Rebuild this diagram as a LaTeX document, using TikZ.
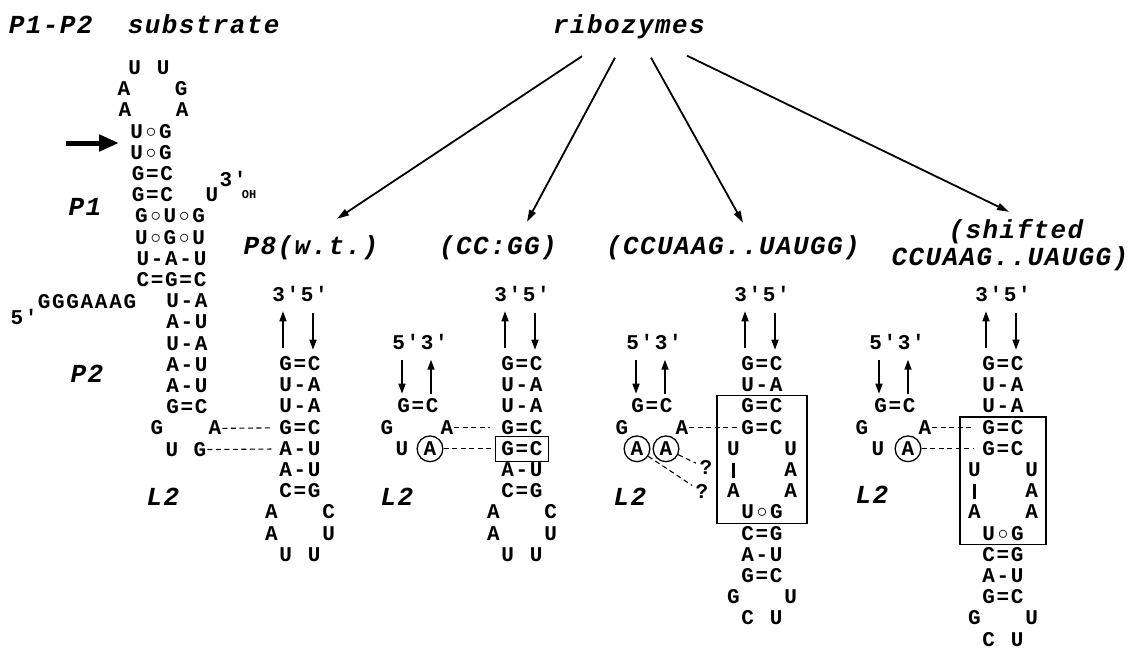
\documentclass[tikz,border=0pt]{standalone}
\usepackage{fontspec}
\usepackage{tikz}
\usetikzlibrary{arrows.meta,calc,fit}

\newfontfamily\seqfont{Liberation Mono}
\newlength\pitch
\setlength\pitch{14.3pt}
% one fixed box per letter, _ leaves an empty box
\newcommand\sq[1]{\expandafter\sqi#1\relax}
\def\sqi#1{\ifx#1\relax\else\ifx#1_\makebox[\pitch]{}\else\makebox[\pitch]{#1}\fi\expandafter\sqi\fi}
\newcommand\wob{\raisebox{1pt}[0pt][0pt]{$\circ$}}
\newcommand\stick{\rule[-1pt]{2.4pt}{15pt}}

\tikzset{
  nt/.style={inner sep=0pt, text height=13pt, text depth=0pt,
    font=\seqfont\bfseries\fontsize{21}{21}\selectfont\setlength\pitch{14.3pt}},
  lab/.style={inner sep=0pt, text height=15pt, text depth=0pt,
    font=\seqfont\bfseries\itshape\fontsize{26}{26}\selectfont\setlength\pitch{17pt}},
  small/.style={inner sep=0pt, font=\seqfont\bfseries\fontsize{12}{12}\selectfont},
  ringed/.style={nt, circle, draw, inner sep=2.3pt, line width=1.3pt},
  boxed/.style={nt, draw, inner xsep=5pt, inner ysep=6pt, line width=1.2pt},
  frame/.style={draw, line width=1.2pt},
  hbond/.style={dash pattern=on 5pt off 3.5pt, line width=1.1pt},
  strand/.style={line width=1.6pt, -{Triangle[length=10pt,width=7pt]}},
  pick/.style={line width=1.8pt, -{Triangle[length=12pt,width=7pt]}},
  cutarrow/.style={line width=5pt, -{Triangle[length=20pt,width=16pt]}},
}

\begin{document}
\begin{tikzpicture}[x=1pt,y=-1pt]
\useasboundingbox (0,0) rectangle (1137,650);

% titles
\node[lab, anchor=west] (subst) at (8,26) {\sq{P1-P2__substrate}};
\node[lab] (ribo) at (629,26) {\sq{ribozymes}};
\node[lab] (aname) at (311,247) {\sq{P8(w.t.)}};
\node[lab] (bname) at (498,247) {\sq{(CC:GG)}};
\node[lab] (cname) at (733,247) {\sq{(CCUAAG..UAUGG)}};
\node[lab] (dname) at (1016,231) {\sq{(shifted}};
\node[lab] (dname2) at (1010,258) {\sq{CCUAAG..UAUGG)}};

\draw[pick] ($(ribo.south)+(-47,22.5)$) -- ($(aname.north)+(26,-20.5)$);
\draw[pick] ($(ribo.south)+(-14,24)$) -- ($(bname.north)+(29,-17.5)$);
\draw[pick] ($(ribo.south)+(22,24)$) -- ($(cname.north)+(10,-16.5)$);
\draw[pick] ($(ribo.south)+(58,22)$) -- ($(dname.north)+(-7,-11.5)$);

% substrate P1-P2
\foreach \k/\x/\t in {0/149/U_U, 1/152.5/A___G, 2/153.5/A___A, 3/151/U\wob G,
    4/151/U\wob G, 5/152.5/G=C, 6/152.5/G=C, 7/170/G\wob U\wob G,
    8/170/U\wob G\wob U, 9/171.5/U-A-U, 10/171.5/C=G=C, 11/187/U-A,
    12/187/A-U, 13/187/U-A, 14/187/A-U, 15/187/A-U, 16/187/G=C}
  \node[nt] (s\k) at (\x,{68+21.2*\k}) {\sq{\t}};
\node[nt] (sG1) at (157,{68+21.2*17}) {\sq{G}};
\node[nt] (sA1) at (215,{68+21.2*17}) {\sq{A}};
\node[nt] (sU) at (172,{68+21.2*18}) {\sq{U}};
\node[nt] (sG2) at (200,{68+21.2*18}) {\sq{G}};
\node[nt] (s3u) at (212,{68+21.2*6}) {\sq{U}};
\node[nt] (s3p) at (233,180) {\sq{3'}};
\node[small] (soh) at (249,195) {OH};
\node[nt] (s5p) at (24,318) {\sq{5'}};
\node[nt] (s5seq) at (87,302) {\sq{GGGAAAG}};
\node[lab] (sp1) at (85,208) {\sq{P1}};
\node[lab] (sp2) at (87,375) {\sq{P2}};
\node[lab] (sl2) at (163,498) {\sq{L2}};
\coordinate (cuttail) at (66,143);
\coordinate (cuthead) at (119,143);
\draw[cutarrow] (cuttail) -- (cuthead);

% P8 (w.t.)
\node[nt] (aends) at (300,295) {\sq{3'5'}};
\foreach \k/\t in {0/G=C, 1/U-A, 2/U-A, 3/G=C, 4/A-U, 5/A-U, 6/C=G,
    7/A___C, 8/A___U, 9/U_U}
  \node[nt] (a\k) at (300,{364+21.2*\k}) {\sq{\t}};
\draw[strand] ($(a0.north)+(-17,-9)$) -- ++(0,-37);
\draw[strand] ($(aends.south)+(13,11)$) -- ++(0,37);
\draw[hbond, shorten >=7pt] (sA1) -- (a3);
\draw[hbond, shorten >=7pt] (sG2) -- (a4);

% (CC:GG)
\node[nt] (bends) at (522,295) {\sq{3'5'}};
\foreach \k/\t in {0/G=C, 1/U-A, 2/U-A, 3/G=C, 5/A-U, 6/C=G,
    7/A___C, 8/A___U, 9/U_U}
  \node[nt] (b\k) at (522,{364+21.2*\k}) {\sq{\t}};
\node[boxed] (b4) at (522,{364+21.2*4}) {\sq{G=C}};
\draw[strand] ($(b0.north)+(-17,-9)$) -- ++(0,-37);
\draw[strand] ($(bends.south)+(13,11)$) -- ++(0,37);
\node[nt] (bl) at (420,343) {\sq{5'3'}};
\node[nt] (bh) at (418,{364+21.2*2}) {\sq{G=C}};
\node[nt] (bg) at (387,{364+21.2*3}) {\sq{G}};
\node[nt] (ba) at (447,{364+21.2*3}) {\sq{A}};
\node[nt] (bu) at (402,{364+21.2*4}) {\sq{U}};
\node[ringed] (bx) at (430,{364+21.2*4}) {\sq{A}};
\node[lab] (bl2) at (397,498) {\sq{L2}};
\draw[strand] ($(bh.north)+(-16,-40)$) -- ++(0,34);
\draw[strand] ($(bh.north)+(13,-6)$) -- ++(0,-34);
\draw[hbond, shorten >=10pt] (ba) -- (b3);
\draw[hbond] (bx) -- (b4);

% (CCUAAG..UAUGG)
\node[nt] (cends) at (762,295) {\sq{3'5'}};
\foreach \k/\t in {0/G=C, 1/U-A, 2/G=C, 3/G=C, 4/U___U, 5/\stick___A,
    6/A___A, 7/U\wob G, 8/C=G, 9/A-U, 10/G=C, 11/G___U, 12/C_U}
  \node[nt] (c\k) at (762,{364+21.2*\k}) {\sq{\t}};
\node[frame, fit=(c2)(c4)(c7), inner xsep=9pt, inner ysep=4pt] (cbox) {};
\draw[strand] ($(c0.north)+(-17,-9)$) -- ++(0,-37);
\draw[strand] ($(cends.south)+(13,11)$) -- ++(0,37);
\node[nt] (cl) at (654,343) {\sq{5'3'}};
\node[nt] (ch) at (652,{364+21.2*2}) {\sq{G=C}};
\node[nt] (cg) at (622,{364+21.2*3}) {\sq{G}};
\node[nt] (ca) at (682,{364+21.2*3}) {\sq{A}};
\node[ringed] (cx1) at (637,{364+21.2*4}) {\sq{A}};
\node[ringed] (cx2) at (666,{364+21.2*4}) {\sq{A}};
\node[nt] (cq1) at (706,468) {\sq{?}};
\node[nt] (cq2) at (702,492) {\sq{?}};
\node[lab] (cl2) at (630,498) {\sq{L2}};
\draw[strand] ($(ch.north)+(-16,-40)$) -- ++(0,34);
\draw[strand] ($(ch.north)+(13,-6)$) -- ++(0,-34);
\draw[hbond, shorten >=2pt] (ca) -- (c3);
\draw[hbond, shorten >=3pt] (cx2) -- (cq1);
\draw[hbond, shorten >=3pt] (cx1) -- (cq2);

% (shifted CCUAAG..UAUGG)
\node[nt] (dends) at (1003,295) {\sq{3'5'}};
\foreach \k/\t in {0/G=C, 1/U-A, 2/U-A, 3/G=C, 4/G=C, 5/U___U,
    6/\stick___A, 7/A___A, 8/U\wob G, 9/C=G, 10/A-U, 11/G=C, 12/G___U, 13/C_U}
  \node[nt] (d\k) at (1003,{364+21.2*\k}) {\sq{\t}};
\node[frame, fit=(d3)(d5)(d8), inner xsep=7pt, inner ysep=4pt] (dbox) {};
\draw[strand] ($(d0.north)+(-17,-9)$) -- ++(0,-37);
\draw[strand] ($(dends.south)+(13,11)$) -- ++(0,37);
\node[nt] (dl) at (897,343) {\sq{5'3'}};
\node[nt] (dh) at (895,{364+21.2*2}) {\sq{G=C}};
\node[nt] (dg) at (862,{364+21.2*3}) {\sq{G}};
\node[nt] (da) at (925,{364+21.2*3}) {\sq{A}};
\node[nt] (du) at (878,{364+21.2*4}) {\sq{U}};
\node[ringed] (dx) at (908,{364+21.2*4}) {\sq{A}};
\node[lab] (dl2) at (872,496) {\sq{L2}};
\draw[strand] ($(dh.north)+(-16,-40)$) -- ++(0,34);
\draw[strand] ($(dh.north)+(13,-6)$) -- ++(0,-34);
\draw[hbond, shorten >=8pt] (da) -- (d3);
\draw[hbond, shorten >=8pt] (dx) -- (d4);
\end{tikzpicture}
\end{document}
